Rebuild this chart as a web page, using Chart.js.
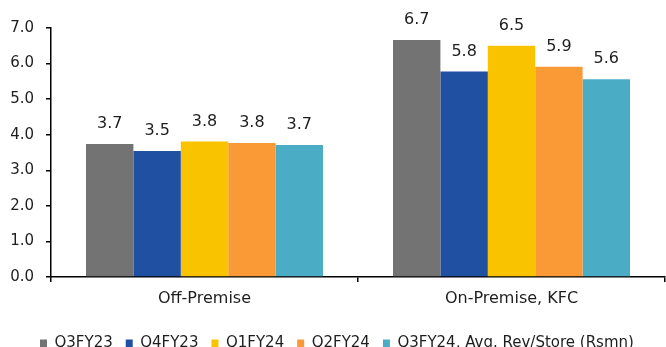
<!DOCTYPE html>
<html>
<head>
<meta charset="utf-8">
<script src="https://cdn.jsdelivr.net/npm/chart.js@4.4.1/dist/chart.umd.min.js"></script>
<style>
  html, body { margin: 0; padding: 0; background: #ffffff; overflow: hidden; }
  #wrap { position: relative; width: 666px; height: 347px; }
</style>
</head>
<body>
<div id="wrap"><canvas id="c" width="666" height="347"></canvas></div>
<script>
const categories = ['Off-Premise', 'On-Premise, KFC'];
const seriesNames = ['Q3FY23', 'Q4FY23', 'Q1FY24', 'Q2FY24', 'Q3FY24, Avg. Rev/Store (Rsmn)'];
const q3fy23 = [3.74, 6.66];
const q4fy23 = [3.54, 5.78];
const q1fy24 = [3.81, 6.50];
const q2fy24 = [3.77, 5.91];
const q3fy24 = [3.71, 5.56];
const seriesValues = [q3fy23, q4fy23, q1fy24, q2fy24, q3fy24];
const seriesColors = ['#737373', '#2050A2', '#F9C300', '#F99A36', '#4BACC6'];
const yMin = 0, yMax = 7, yStep = 1;

const FONT = 'DejaVu Sans, Verdana, sans-serif';
const TEXT = '#1e1e1e';

const dataLabels = {
  id: 'dataLabels',
  afterDatasetsDraw(chart) {
    const ctx = chart.ctx;
    ctx.save();
    ctx.font = '16px ' + FONT;
    ctx.fillStyle = TEXT;
    ctx.textAlign = 'center';
    ctx.textBaseline = 'middle';
    chart.data.datasets.forEach((ds, i) => {
      const meta = chart.getDatasetMeta(i);
      meta.data.forEach((bar, j) => {
        ctx.fillText(ds.data[j].toFixed(1), bar.x, bar.y - 20);
      });
    });
    ctx.restore();
  }
};

const legendShift = {
  id: 'legendShift',
  afterLayout(chart) {
    if (chart.legend) { chart.legend.left = 27; }
  }
};

new Chart(document.getElementById('c'), {
  type: 'bar',
  data: {
    labels: categories,
    datasets: seriesNames.map((name, i) => ({
      label: name,
      data: seriesValues[i],
      backgroundColor: seriesColors[i],
      borderWidth: 0,
      categoryPercentage: 0.772,
      barPercentage: 1.0
    }))
  },
  options: {
    responsive: false,
    animation: false,
    devicePixelRatio: 1,
    layout: { padding: { left: 0, right: 1, top: 28, bottom: -14 } },
    plugins: {
      legend: {
        position: 'bottom',
        align: 'start',
        labels: {
          boxWidth: 7,
          boxHeight: 8,
          padding: 13,
          color: TEXT,
          font: { family: FONT, size: 15 }
        }
      },
      tooltip: { enabled: false }
    },
    scales: {
      x: {
        offset: true,
        grid: { offset: true, drawOnChartArea: false, drawTicks: true, tickLength: 5, color: '#000', lineWidth: 1.5 },
        border: { display: true, color: '#000', width: 1.5 },
        ticks: { color: TEXT, font: { family: FONT, size: 16 }, padding: 7, maxRotation: 0 },
        afterFit(scale) { scale.height = 46; }
      },
      y: {
        min: yMin,
        max: yMax,
        grid: { drawOnChartArea: false, drawTicks: true, tickLength: 5, color: '#000', lineWidth: 1.5 },
        border: { display: true, color: '#000', width: 1.5 },
        ticks: {
          stepSize: yStep,
          color: TEXT,
          font: { family: FONT, size: 15 },
          padding: 12,
          callback: (v) => Number(v).toFixed(1)
        },
        afterFit(scale) { scale.width = 51; }
      }
    }
  },
  plugins: [dataLabels, legendShift]
});
</script>
</body>
</html>
